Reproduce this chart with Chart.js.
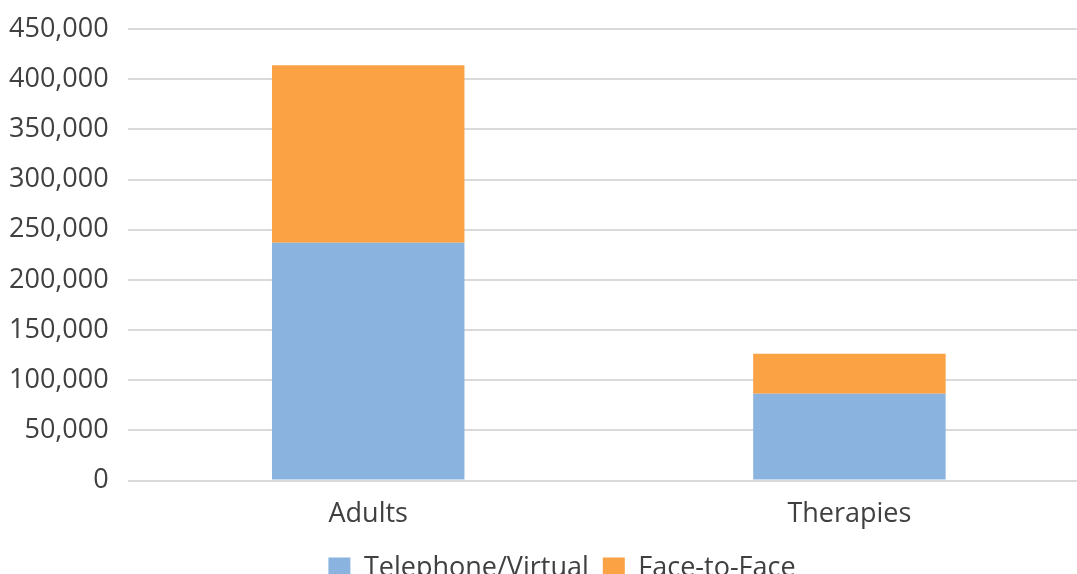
<!DOCTYPE html>
<html>
<head>
<meta charset="utf-8">
<script src="https://cdn.jsdelivr.net/npm/chart.js@4/dist/chart.umd.min.js"></script>
<style>
  html, body { margin: 0; padding: 0; background: #fff; overflow: hidden; }
  #wrap { width: 1090px; height: 592px; }
</style>
</head>
<body>
<div id="wrap"><canvas id="serviceChart" width="1090" height="592"></canvas></div>
<script>
var categories = ["Adults", "Therapies"];
var telephoneVirtual = [237000, 86600];
var faceToFace = [177000, 39800];
var yTicks = [0, 50000, 100000, 150000, 200000, 250000, 300000, 350000, 400000, 450000];

var textColor = "#404040";
var fontFamily = "'Open Sans', sans-serif";

// nudge the legend a little right, like the original
var legendShift = {
    id: 'legendShift',
    beforeDraw: function(chart) {
        if (chart.legend && !chart.legend._shifted) {
            chart.legend.left += 22;
            chart.legend.right += 22;
            chart.legend._shifted = true;
        }
    }
};

var chartConfig = {
    type: 'bar',
    data: {
        labels: categories,
        datasets: [
            {
                label: "Telephone/Virtual",
                data: telephoneVirtual,
                backgroundColor: "#8ab4df",
                barPercentage: 0.8,
                categoryPercentage: 0.5
            },
            {
                label: "Face-to-Face",
                data: faceToFace,
                backgroundColor: "#fba245",
                barPercentage: 0.8,
                categoryPercentage: 0.5
            }
        ]
    },
    options: {
        responsive: false,
        animation: false,
        layout: {
            padding: { top: 3, left: -10, right: 0, bottom: 0 }
        },
        plugins: {
            tooltip: { enabled: false },
            legend: {
                position: 'bottom',
                labels: {
                    color: textColor,
                    font: { family: fontFamily, size: 27 },
                    boxWidth: 22,
                    boxHeight: 22,
                    padding: 14
                }
            }
        },
        scales: {
            x: {
                stacked: true,
                grid: { display: false },
                border: { display: false },
                ticks: {
                    color: textColor,
                    font: { family: fontFamily, size: 27 },
                    padding: 10
                }
            },
            y: {
                stacked: true,
                min: 0,
                max: 450000,
                afterBuildTicks: function(axis) {
                    axis.ticks = yTicks.map(function(v) { return { value: v }; });
                },
                grid: { color: "#d9d9d9", lineWidth: 2, drawTicks: false },
                border: { display: false },
                ticks: {
                    color: textColor,
                    font: { family: fontFamily, size: 27, lineHeight: 0.75 },
                    padding: 19,
                    callback: function(v) { return v.toLocaleString('en-US'); }
                }
            }
        }
    },
    plugins: [legendShift]
};

var ctx = document.getElementById("serviceChart").getContext("2d");
new Chart(ctx, chartConfig);
</script>
</body>
</html>
